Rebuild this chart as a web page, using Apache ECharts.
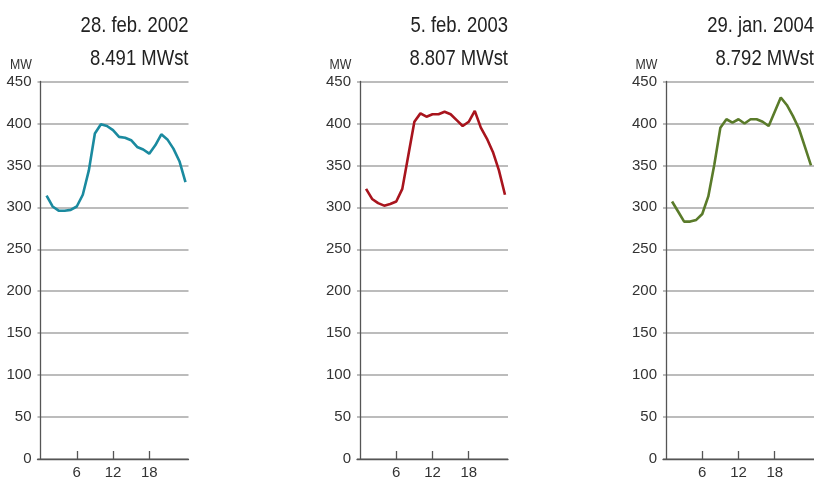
<!DOCTYPE html>
<html><head><meta charset="utf-8">
<script src="https://cdn.jsdelivr.net/npm/echarts@6/dist/echarts.min.js"></script>
<style>html,body{margin:0;padding:0;background:#fff}#c{width:814px;height:480px}</style>
</head><body><div id="c"></div>
<script>
const hours = [1,2,3,4,5,6,7,8,9,10,11,12,13,14,15,16,17,18,19,20,21,22,23,24];
const load2002 = [314,301,296,296,297,301,315,344,388,399,397,392,384,383,380,372,369,364,374,387,381,370,355,330];
const load2003 = [322,310,305,302,304,307,322,362,402,412,408,411,411,414,411,404,397,402,415,395,382,366,344,315];
const load2004 = [307,295,283,283,285,292,313,351,395,405,401,405,400,405,405,402,397,414,431,422,409,394,372,350];
const titles1 = ['28. feb. 2002','5. feb. 2003','29. jan. 2004'];
const titles2 = ['8.491 MWst','8.807 MWst','8.792 MWst'];
const xTicks = [6,12,18];
const yUnit = 'MW';
const colors = ['#1a8a9f','#a8141d','#5a7b2a'];

const lefts = [37.5, 357, 663];
const W = 151, TOP = 81.5, BOTTOM = 461;
const FONT = '"Liberation Sans",Arial,sans-serif';
const series = [load2002, load2003, load2004];

const grids = [], xAxes = [], yAxes = [], ser = [], graphics = [];
for (let i = 0; i < 3; i++) {
  grids.push({left: lefts[i], top: TOP, width: W, height: BOTTOM - TOP});
  xAxes.push({
    type: 'value', gridIndex: i, min: -0.5, max: 24.5,
    axisLine: {show: true, lineStyle: {color: '#555', width: 1.3}},
    axisTick: {show: true, inside: true, length: 8, customValues: xTicks, lineStyle: {color: '#555', width: 1.3}},
    axisLabel: {customValues: xTicks, color: '#333', fontSize: 15, fontFamily: FONT, margin: 6},
    splitLine: {show: false}
  });
  yAxes.push({
    type: 'value', gridIndex: i, min: 0, max: 450, interval: 50,
    axisLine: {show: true, lineStyle: {color: '#555', width: 1.3}},
    axisTick: {show: false},
    axisLabel: {color: '#333', fontSize: 15, fontFamily: FONT, margin: 6},
    splitLine: {show: true, lineStyle: {color: '#a6a6a6', width: 1.5}}
  });
  ser.push({
    type: 'line', xAxisIndex: i, yAxisIndex: i, showSymbol: false, symbol: 'none',
    data: hours.map((h, k) => [h, series[i][k]]),
    lineStyle: {color: colors[i], width: 2.6}, itemStyle: {color: colors[i]},
    animation: false, z: 5
  });
  const right = lefts[i] + W;
  graphics.push({type: 'text', x: right, y: 25.5, scaleX: 0.84, style: {text: titles1[i], textAlign: 'right', textVerticalAlign: 'middle', font: '22px ' + FONT, fill: '#222'}});
  graphics.push({type: 'text', x: right, y: 59, scaleX: 0.84, style: {text: titles2[i], textAlign: 'right', textVerticalAlign: 'middle', font: '22px ' + FONT, fill: '#222'}});
  graphics.push({type: 'text', x: lefts[i] - 27.5, y: 65, scaleX: 0.88, style: {text: yUnit, textAlign: 'left', textVerticalAlign: 'middle', font: '14px ' + FONT, fill: '#333'}});
}

const chart = echarts.init(document.getElementById('c'), null, {renderer: 'canvas'});
chart.setOption({
  animation: false,
  grid: grids, xAxis: xAxes, yAxis: yAxes, series: ser, graphic: graphics
});
</script></body></html>
